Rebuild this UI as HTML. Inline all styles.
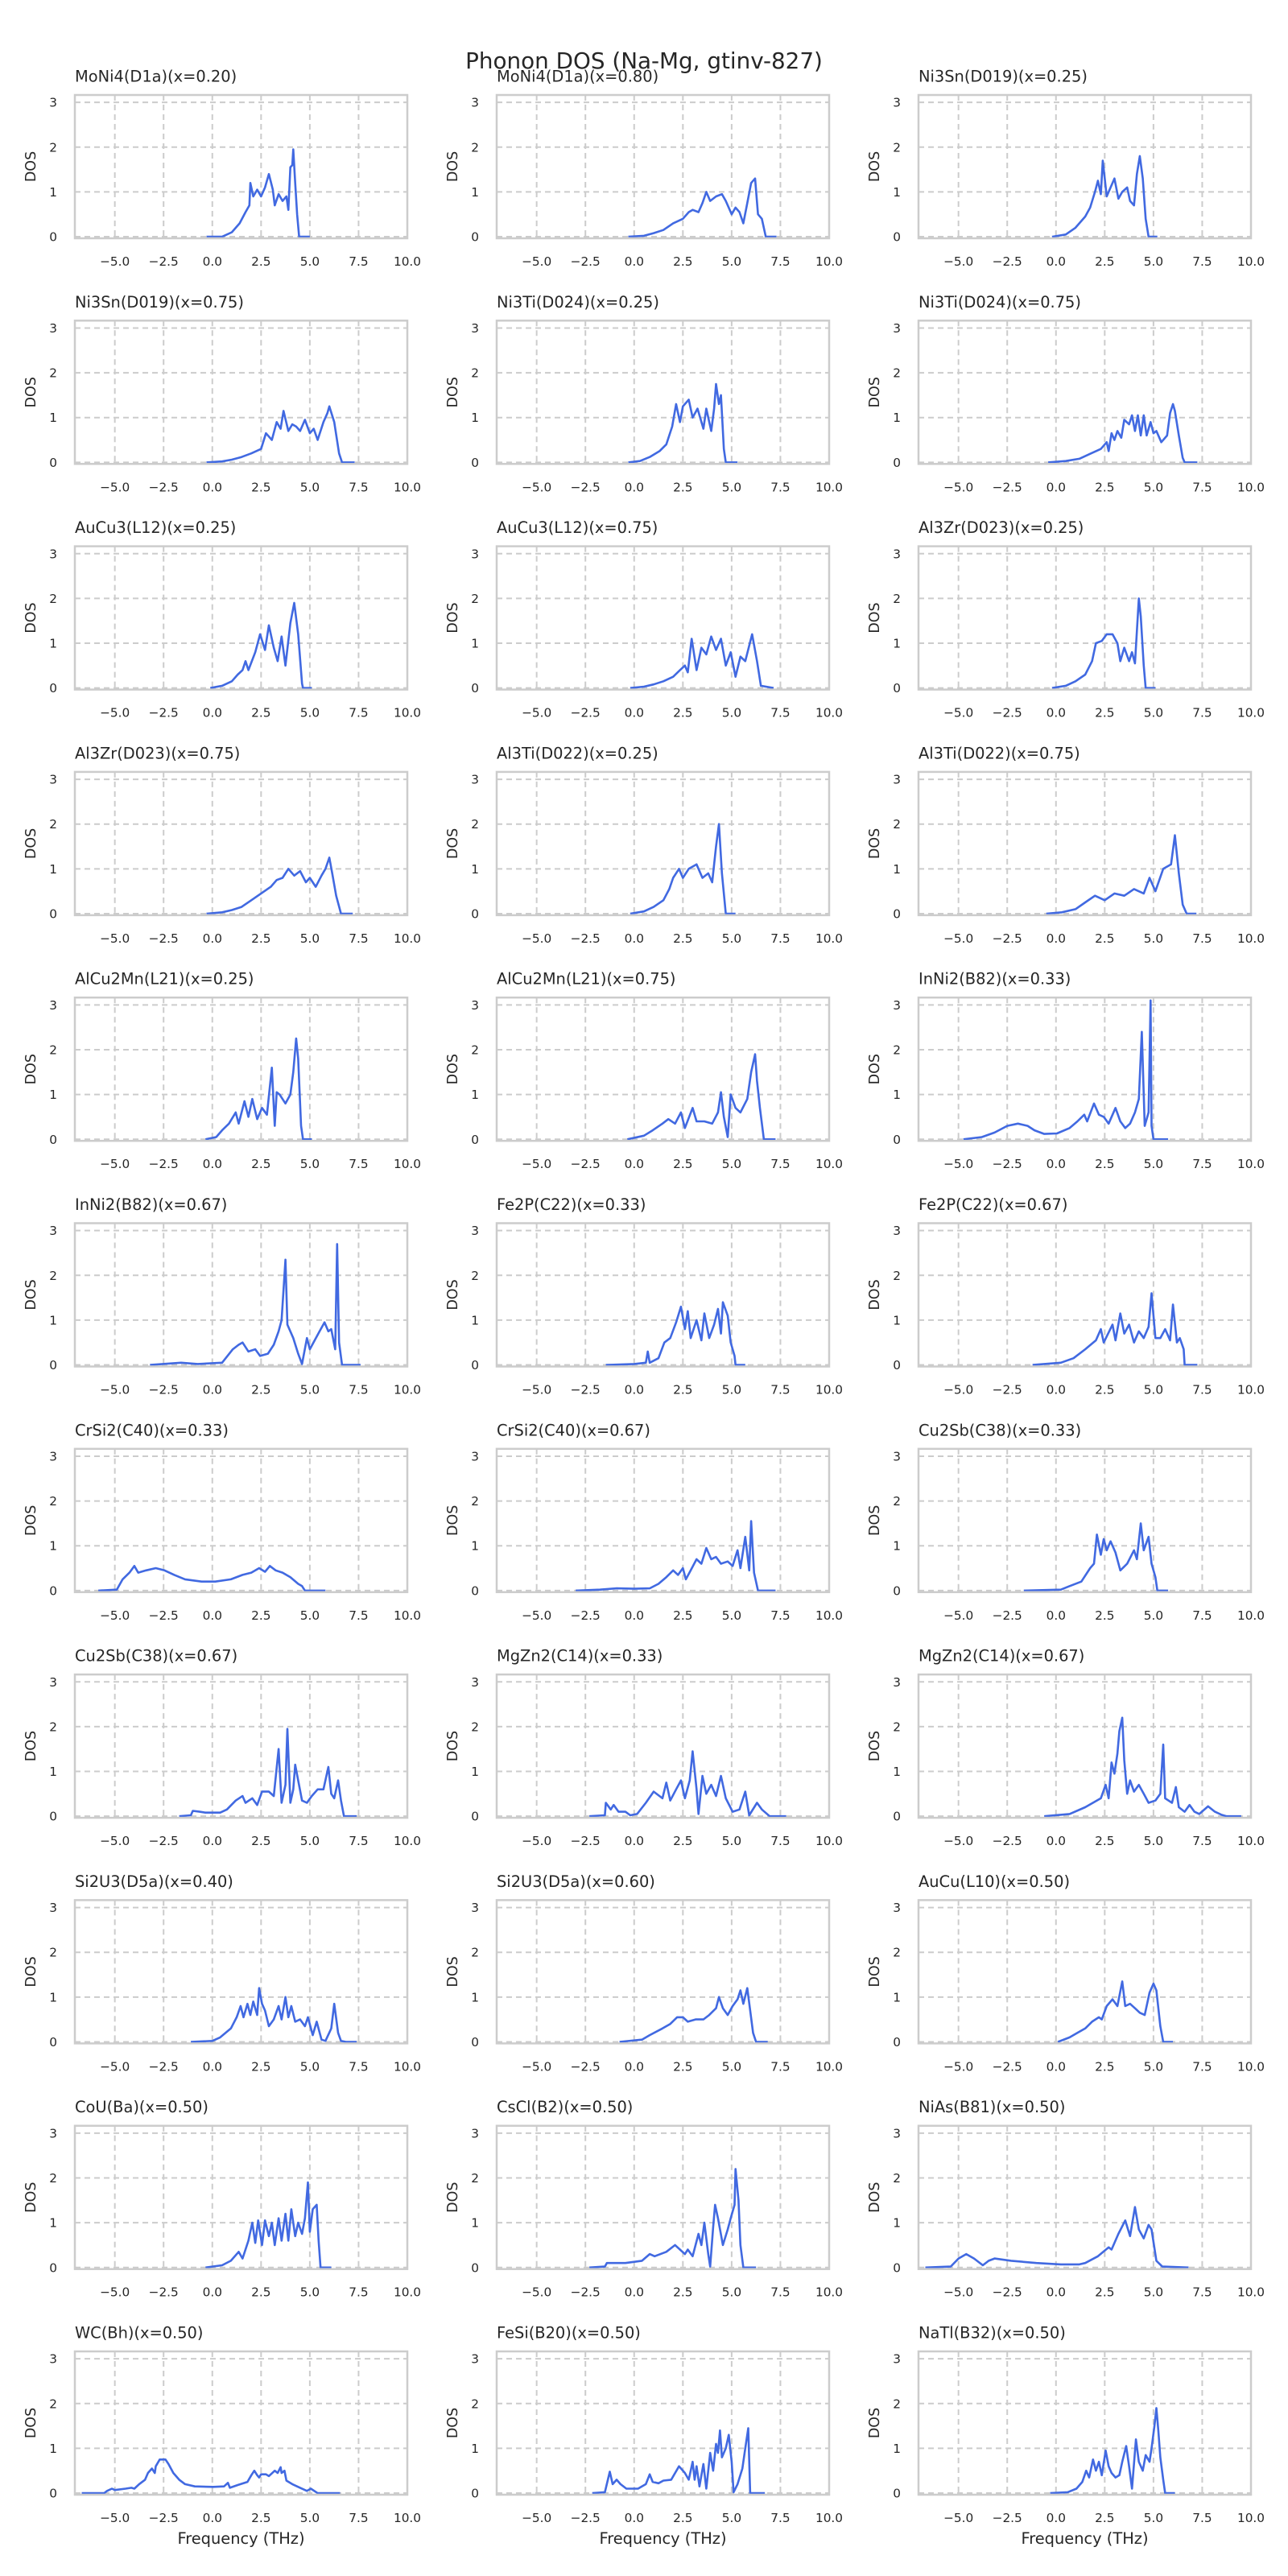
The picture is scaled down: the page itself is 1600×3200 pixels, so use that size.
<!DOCTYPE html>
<html><head><meta charset="utf-8"><title>Phonon DOS (Na-Mg, gtinv-827)</title>
<style>
html,body{margin:0;padding:0;background:#fff;}
svg{display:block;font-family:"DejaVu Sans","Liberation Sans",sans-serif;}
</style></head>
<body>
<svg id="fig" width="1600" height="3200" viewBox="0 0 1600 3200" xmlns="http://www.w3.org/2000/svg">
<rect width="1600" height="3200" fill="#fff"/>
<text x="800" y="85" text-anchor="middle" font-size="27.8" fill="#262626">Phonon DOS (Na-Mg, gtinv-827)</text>
</svg>
<script>
const panelTitles = ["MoNi4(D1a)(x=0.20)","MoNi4(D1a)(x=0.80)","Ni3Sn(D019)(x=0.25)","Ni3Sn(D019)(x=0.75)","Ni3Ti(D024)(x=0.25)","Ni3Ti(D024)(x=0.75)","AuCu3(L12)(x=0.25)","AuCu3(L12)(x=0.75)","Al3Zr(D023)(x=0.25)","Al3Zr(D023)(x=0.75)","Al3Ti(D022)(x=0.25)","Al3Ti(D022)(x=0.75)","AlCu2Mn(L21)(x=0.25)","AlCu2Mn(L21)(x=0.75)","InNi2(B82)(x=0.33)","InNi2(B82)(x=0.67)","Fe2P(C22)(x=0.33)","Fe2P(C22)(x=0.67)","CrSi2(C40)(x=0.33)","CrSi2(C40)(x=0.67)","Cu2Sb(C38)(x=0.33)","Cu2Sb(C38)(x=0.67)","MgZn2(C14)(x=0.33)","MgZn2(C14)(x=0.67)","Si2U3(D5a)(x=0.40)","Si2U3(D5a)(x=0.60)","AuCu(L10)(x=0.50)","CoU(Ba)(x=0.50)","CsCl(B2)(x=0.50)","NiAs(B81)(x=0.50)","WC(Bh)(x=0.50)","FeSi(B20)(x=0.50)","NaTl(B32)(x=0.50)"];
const xTicks = [-5, -2.5, 0, 2.5, 5, 7.5, 10];
const xTickLabels = ["\u22125.0","\u22122.5","0.0","2.5","5.0","7.5","10.0"];
const yTicks = [0, 1, 2, 3];
const yTickLabels = ["0","1","2","3"];
const xDomain = [-7.05, 10];
const yDomain = [-0.035, 3.165];
// each curve: [frequency (THz), DOS] pairs
const dosCurves = [
[[-0.3,0],[0.5,0],[1.0,0.1],[1.4,0.3],[1.7,0.55],[1.9,0.7],[1.95,1.2],[2.1,0.9],[2.3,1.05],[2.5,0.9],[2.7,1.1],[2.9,1.4],[3.1,1.05],[3.2,0.7],[3.4,0.95],[3.6,0.8],[3.8,0.9],[3.9,0.6],[4.0,1.55],[4.1,1.6],[4.15,1.95],[4.25,1.2],[4.35,0.5],[4.45,0],[5.0,0]],
[[-0.3,0],[0.5,0.02],[1.0,0.08],[1.5,0.15],[2.0,0.3],[2.5,0.4],[2.8,0.55],[3.0,0.6],[3.3,0.55],[3.5,0.75],[3.7,1.0],[3.9,0.8],[4.2,0.9],[4.5,0.95],[4.7,0.8],[5.0,0.5],[5.2,0.65],[5.4,0.55],[5.6,0.3],[5.8,0.75],[6.0,1.2],[6.2,1.3],[6.35,0.5],[6.55,0.4],[6.75,0],[7.3,0]],
[[-0.2,0],[0.5,0.05],[1.0,0.2],[1.5,0.45],[1.75,0.65],[2.0,1.0],[2.15,1.25],[2.3,0.95],[2.4,1.7],[2.6,0.9],[2.8,1.1],[3.0,1.3],[3.2,0.85],[3.4,1.0],[3.65,1.1],[3.8,0.8],[4.0,0.7],[4.15,1.4],[4.3,1.8],[4.45,1.3],[4.6,0.4],[4.75,0],[5.2,0]],
[[-0.3,0],[0.5,0.02],[1.0,0.06],[1.5,0.12],[2.0,0.2],[2.5,0.3],[2.75,0.65],[3.05,0.5],[3.3,0.9],[3.5,0.75],[3.65,1.15],[3.9,0.7],[4.1,0.85],[4.3,0.8],[4.5,0.7],[4.75,0.95],[5.0,0.65],[5.2,0.75],[5.4,0.5],[5.7,0.9],[5.9,1.1],[6.0,1.25],[6.25,0.9],[6.5,0.2],[6.65,0],[7.3,0]],
[[-0.3,0],[0.3,0.03],[0.8,0.12],[1.3,0.25],[1.65,0.4],[1.95,0.8],[2.15,1.3],[2.35,0.9],[2.5,1.25],[2.8,1.4],[3.0,1.0],[3.25,1.2],[3.55,0.75],[3.7,1.2],[3.95,0.7],[4.1,1.2],[4.2,1.75],[4.35,1.3],[4.45,1.5],[4.6,0.3],[4.7,0],[5.3,0]],
[[-0.4,0],[0.5,0.03],[1.2,0.08],[1.8,0.2],[2.3,0.3],[2.6,0.45],[2.7,0.25],[2.85,0.65],[3.0,0.5],[3.15,0.7],[3.35,0.55],[3.5,0.95],[3.75,0.85],[3.9,1.05],[4.05,0.7],[4.2,1.05],[4.35,0.6],[4.5,1.05],[4.65,0.6],[4.85,0.9],[5.0,0.65],[5.15,0.7],[5.4,0.45],[5.7,0.6],[5.85,1.1],[6.0,1.3],[6.1,1.15],[6.3,0.6],[6.5,0.1],[6.6,0],[7.25,0]],
[[-0.1,0],[0.5,0.05],[1.0,0.15],[1.3,0.3],[1.55,0.4],[1.7,0.6],[1.85,0.4],[2.2,0.8],[2.45,1.2],[2.7,0.85],[2.9,1.4],[3.15,0.9],[3.35,0.6],[3.55,1.15],[3.75,0.5],[4.0,1.45],[4.2,1.9],[4.4,1.2],[4.6,0.1],[4.65,0],[5.1,0]],
[[-0.2,0],[0.5,0.03],[1.0,0.08],[1.5,0.15],[2.0,0.25],[2.35,0.4],[2.6,0.5],[2.75,0.35],[2.95,1.1],[3.2,0.4],[3.45,0.9],[3.7,0.75],[3.95,1.15],[4.2,0.85],[4.45,1.1],[4.7,0.5],[4.95,0.8],[5.2,0.25],[5.45,0.7],[5.7,0.6],[6.05,1.2],[6.3,0.6],[6.5,0.05],[7.15,0]],
[[-0.2,0],[0.5,0.05],[1.0,0.15],[1.5,0.3],[1.85,0.6],[2.05,1.0],[2.35,1.05],[2.6,1.2],[2.9,1.2],[3.15,1.0],[3.3,0.6],[3.5,0.9],[3.75,0.6],[3.9,0.8],[4.05,0.55],[4.25,2.0],[4.35,1.6],[4.5,0.5],[4.6,0],[5.1,0]],
[[-0.3,0],[0.5,0.03],[1.0,0.08],[1.5,0.15],[2.0,0.3],[2.5,0.45],[3.0,0.6],[3.3,0.75],[3.6,0.8],[3.9,1.0],[4.2,0.85],[4.5,0.95],[4.8,0.7],[5.0,0.8],[5.3,0.6],[5.6,0.85],[5.8,1.0],[6.0,1.25],[6.15,0.9],[6.35,0.4],[6.6,0],[7.2,0]],
[[-0.2,0],[0.5,0.05],[1.0,0.15],[1.5,0.3],[1.8,0.55],[2.0,0.8],[2.3,1.0],[2.5,0.8],[2.8,1.0],[3.2,1.1],[3.5,0.8],[3.8,0.9],[4.0,0.7],[4.2,1.5],[4.35,2.0],[4.5,0.9],[4.7,0],[5.2,0]],
[[-0.5,0],[0.3,0.03],[1.0,0.1],[1.5,0.25],[2.0,0.4],[2.5,0.3],[3.0,0.45],[3.5,0.4],[4.0,0.55],[4.5,0.45],[4.8,0.8],[5.1,0.5],[5.5,1.0],[5.9,1.1],[6.1,1.75],[6.3,0.9],[6.5,0.2],[6.7,0],[7.2,0]],
[[-0.35,0],[0.2,0.05],[0.5,0.2],[0.85,0.35],[1.2,0.6],[1.35,0.35],[1.65,0.85],[1.85,0.5],[2.05,0.9],[2.3,0.45],[2.55,0.7],[2.8,0.55],[3.05,1.6],[3.2,0.3],[3.3,1.05],[3.45,1.0],[3.75,0.8],[4.0,1.0],[4.15,1.5],[4.3,2.25],[4.4,1.8],[4.55,0.3],[4.65,0],[5.1,0]],
[[-0.35,0],[0.5,0.08],[0.95,0.2],[1.45,0.35],[1.75,0.45],[2.1,0.35],[2.4,0.6],[2.6,0.25],[3.0,0.7],[3.2,0.4],[3.6,0.4],[4.0,0.35],[4.3,0.6],[4.45,1.05],[4.6,0.5],[4.8,0.05],[4.95,1.0],[5.2,0.7],[5.45,0.6],[5.8,0.9],[6.0,1.5],[6.2,1.9],[6.3,1.3],[6.45,0.7],[6.65,0],[7.25,0]],
[[-4.75,0],[-3.8,0.05],[-3.15,0.15],[-2.5,0.3],[-1.95,0.35],[-1.45,0.3],[-1.1,0.2],[-0.6,0.12],[0.05,0.13],[0.7,0.25],[1.1,0.4],[1.45,0.55],[1.6,0.4],[1.95,0.8],[2.2,0.55],[2.45,0.5],[2.7,0.35],[3.05,0.7],[3.3,0.4],[3.55,0.25],[3.8,0.35],[4.05,0.6],[4.25,0.9],[4.4,2.4],[4.55,0.3],[4.75,0.6],[4.85,3.1],[4.9,0.3],[5.0,0],[5.75,0]],
[[-3.2,0],[-1.6,0.05],[-0.75,0.02],[0.5,0.05],[1.05,0.35],[1.35,0.45],[1.55,0.5],[1.85,0.3],[2.2,0.35],[2.45,0.2],[2.85,0.25],[3.15,0.45],[3.4,0.75],[3.55,1.0],[3.75,2.35],[3.85,0.9],[4.15,0.6],[4.4,0.25],[4.6,0.02],[4.85,0.6],[5.0,0.35],[5.25,0.55],[5.5,0.75],[5.75,0.95],[5.95,0.75],[6.1,0.8],[6.3,0.35],[6.4,2.7],[6.5,0.5],[6.65,0],[7.6,0]],
[[-1.45,0],[0,0.02],[0.6,0.05],[0.7,0.3],[0.8,0.05],[1.25,0.15],[1.55,0.5],[1.85,0.6],[2.15,0.95],[2.4,1.3],[2.6,0.8],[2.75,1.2],[2.9,0.6],[3.2,1.0],[3.45,0.55],[3.6,1.15],[3.85,0.6],[4.1,0.9],[4.3,1.25],[4.45,0.7],[4.55,1.4],[4.8,1.1],[4.95,0.5],[5.15,0.2],[5.2,0],[5.7,0]],
[[-1.2,0],[0.25,0.05],[0.9,0.15],[1.5,0.35],[2.05,0.55],[2.3,0.8],[2.45,0.5],[2.9,0.9],[3.05,0.55],[3.3,1.15],[3.5,0.7],[3.75,0.9],[4.0,0.5],[4.25,0.75],[4.5,0.6],[4.75,0.85],[4.9,1.6],[5.1,0.6],[5.35,0.6],[5.6,0.8],[5.85,0.55],[6.0,1.35],[6.2,0.5],[6.35,0.6],[6.55,0.35],[6.6,0],[7.25,0]],
[[-5.85,0],[-4.9,0.02],[-4.6,0.25],[-4.25,0.4],[-4.0,0.55],[-3.8,0.4],[-3.4,0.45],[-2.9,0.5],[-2.45,0.45],[-1.95,0.35],[-1.4,0.25],[-0.55,0.2],[0.15,0.2],[0.95,0.25],[1.55,0.35],[2.0,0.4],[2.4,0.5],[2.7,0.42],[2.95,0.55],[3.25,0.45],[3.6,0.4],[4.0,0.3],[4.4,0.15],[4.6,0.1],[4.75,0],[5.8,0]],
[[-3.0,0],[-1.75,0.02],[-0.9,0.05],[0,0.04],[0.8,0.05],[1.25,0.15],[1.65,0.3],[2.0,0.45],[2.25,0.35],[2.5,0.5],[2.65,0.25],[2.9,0.45],[3.2,0.7],[3.45,0.6],[3.7,0.95],[3.95,0.7],[4.2,0.75],[4.45,0.6],[4.8,0.65],[5.05,0.55],[5.3,0.9],[5.45,0.5],[5.7,1.2],[5.9,0.45],[6.0,1.55],[6.15,0.4],[6.35,0],[7.25,0]],
[[-1.65,0],[0.25,0.02],[0.7,0.1],[1.3,0.2],[1.75,0.5],[1.95,0.6],[2.1,1.25],[2.3,0.8],[2.45,1.15],[2.6,0.9],[2.8,1.1],[3.05,0.85],[3.3,0.45],[3.65,0.6],[4.0,0.9],[4.15,0.7],[4.35,1.5],[4.5,0.9],[4.75,1.2],[4.9,0.6],[5.1,0.3],[5.2,0],[5.75,0]],
[[-1.7,0],[-1.1,0.02],[-1.0,0.12],[-0.65,0.1],[-0.35,0.08],[0.4,0.08],[0.75,0.15],[1.2,0.35],[1.55,0.45],[1.7,0.3],[2.05,0.4],[2.3,0.25],[2.55,0.55],[2.9,0.55],[3.15,0.45],[3.4,1.5],[3.55,0.3],[3.75,0.7],[3.85,1.95],[4.0,0.3],[4.15,0.6],[4.25,1.15],[4.4,0.8],[4.6,0.35],[4.85,0.3],[5.1,0.45],[5.4,0.6],[5.7,0.6],[5.95,1.1],[6.1,0.5],[6.25,0.4],[6.45,0.8],[6.6,0.35],[6.75,0],[7.4,0]],
[[-2.3,0],[-1.5,0.02],[-1.45,0.3],[-1.2,0.15],[-1.05,0.25],[-0.8,0.1],[-0.45,0.1],[-0.2,0.02],[0.15,0.05],[0.6,0.3],[1.0,0.55],[1.45,0.4],[1.65,0.75],[1.85,0.35],[2.15,0.6],[2.4,0.8],[2.6,0.4],[2.85,0.8],[3.0,1.45],[3.2,0.6],[3.3,0.05],[3.5,0.9],[3.7,0.5],[3.95,0.7],[4.2,0.45],[4.45,0.9],[4.7,0.4],[5.05,0.1],[5.4,0.15],[5.7,0.55],[5.9,0.02],[6.3,0.3],[6.55,0.15],[6.95,0],[7.8,0]],
[[-0.6,0],[0.7,0.05],[1.5,0.2],[2.3,0.4],[2.55,0.7],[2.7,0.4],[2.85,1.2],[3.0,0.95],[3.15,1.4],[3.25,1.9],[3.4,2.2],[3.5,1.25],[3.65,0.5],[3.8,0.8],[4.0,0.55],[4.25,0.7],[4.5,0.5],[4.75,0.3],[5.1,0.35],[5.35,0.5],[5.5,1.6],[5.6,0.4],[5.95,0.3],[6.15,0.65],[6.3,0.2],[6.6,0.1],[6.85,0.25],[7.1,0.1],[7.35,0.05],[7.8,0.22],[8.15,0.1],[8.5,0.03],[8.75,0],[9.5,0]],
[[-1.1,0],[0,0.02],[0.4,0.1],[0.95,0.3],[1.25,0.55],[1.45,0.8],[1.6,0.55],[1.8,0.85],[1.95,0.6],[2.1,0.9],[2.3,0.6],[2.4,1.2],[2.55,0.85],[2.7,0.7],[2.9,0.35],[3.15,0.5],[3.4,0.8],[3.55,0.5],[3.75,1.0],[3.9,0.55],[4.05,0.8],[4.25,0.45],[4.5,0.5],[4.75,0.35],[4.9,0.55],[5.15,0.15],[5.35,0.45],[5.6,0.05],[5.8,0.02],[6.1,0.3],[6.25,0.85],[6.45,0.2],[6.6,0.02],[6.85,0],[7.4,0]],
[[-0.75,0],[0.4,0.05],[0.8,0.15],[1.45,0.3],[1.85,0.4],[2.2,0.55],[2.5,0.55],[2.75,0.45],[3.15,0.5],[3.55,0.5],[3.85,0.6],[4.2,0.75],[4.35,1.0],[4.55,0.75],[4.8,0.6],[5.05,0.8],[5.3,0.95],[5.45,1.15],[5.6,0.85],[5.8,1.2],[5.95,0.7],[6.1,0.2],[6.25,0],[6.85,0]],
[[0.1,0],[0.7,0.1],[1.1,0.2],[1.5,0.3],[1.85,0.45],[2.2,0.55],[2.35,0.5],[2.6,0.8],[2.9,0.95],[3.15,0.8],[3.4,1.35],[3.55,0.8],[3.8,0.85],[4.05,0.75],[4.3,0.65],[4.55,0.6],[4.8,1.1],[5.0,1.3],[5.15,1.15],[5.35,0.35],[5.5,0],[6.0,0]],
[[-0.35,0],[0.5,0.05],[0.95,0.15],[1.35,0.35],[1.55,0.2],[1.85,0.6],[2.05,1.0],[2.2,0.55],[2.35,1.05],[2.55,0.5],[2.7,1.05],[2.9,0.7],[3.05,1.0],[3.2,0.5],[3.4,1.1],[3.55,0.6],[3.75,1.2],[3.9,0.6],[4.05,1.3],[4.25,0.7],[4.4,1.0],[4.6,0.75],[4.75,1.1],[4.9,1.9],[5.0,0.8],[5.15,1.3],[5.35,1.4],[5.45,0.6],[5.55,0],[6.1,0]],
[[-2.3,0],[-1.5,0.02],[-1.4,0.1],[-0.45,0.1],[0.4,0.15],[0.8,0.3],[1.05,0.25],[1.65,0.35],[2.1,0.5],[2.35,0.4],[2.6,0.3],[2.75,0.4],[3.0,0.25],[3.3,0.75],[3.45,0.5],[3.6,1.0],[3.8,0.3],[3.9,0.02],[4.05,0.9],[4.15,1.4],[4.3,1.1],[4.55,0.5],[4.8,0.85],[4.95,1.1],[5.15,1.4],[5.2,2.2],[5.35,1.5],[5.45,0.5],[5.6,0],[6.25,0]],
[[-6.7,0],[-5.4,0.02],[-5.0,0.2],[-4.6,0.3],[-4.2,0.2],[-3.75,0.05],[-3.45,0.15],[-3.15,0.2],[-2.3,0.15],[-1.0,0.1],[0.25,0.07],[1.2,0.07],[1.5,0.1],[2.15,0.25],[2.7,0.45],[2.85,0.4],[3.2,0.75],[3.55,1.05],[3.8,0.7],[4.05,1.35],[4.25,0.85],[4.5,0.65],[4.75,0.95],[4.9,0.85],[5.15,0.15],[5.45,0.02],[6.8,0]],
[[-6.7,0],[-5.55,0],[-5.4,0.05],[-5.15,0.1],[-5.0,0.07],[-4.45,0.1],[-4.15,0.12],[-4.0,0.1],[-3.75,0.2],[-3.45,0.3],[-3.3,0.45],[-3.1,0.55],[-2.95,0.45],[-2.9,0.6],[-2.7,0.75],[-2.55,0.75],[-2.4,0.75],[-2.25,0.65],[-2.0,0.45],[-1.7,0.3],[-1.4,0.2],[-0.9,0.15],[0.05,0.14],[0.6,0.15],[0.8,0.23],[0.9,0.12],[1.3,0.18],[1.8,0.25],[2.0,0.4],[2.15,0.5],[2.3,0.4],[2.4,0.35],[2.5,0.42],[2.75,0.42],[2.9,0.38],[3.2,0.5],[3.35,0.45],[3.5,0.58],[3.55,0.45],[3.7,0.5],[3.8,0.28],[4.1,0.2],[4.5,0.12],[4.85,0.05],[5.05,0.1],[5.4,0],[6.55,0]],
[[-2.15,0],[-1.5,0.02],[-1.25,0.48],[-1.1,0.2],[-0.9,0.3],[-0.7,0.2],[-0.4,0.1],[0.2,0.1],[0.6,0.2],[0.8,0.42],[0.95,0.25],[1.25,0.22],[1.5,0.28],[1.9,0.3],[2.3,0.6],[2.6,0.45],[2.8,0.3],[3.0,0.7],[3.1,0.3],[3.2,0.6],[3.35,0.15],[3.55,0.65],[3.7,0.1],[3.9,0.9],[4.05,0.5],[4.2,1.1],[4.3,0.9],[4.4,1.4],[4.5,0.8],[4.7,1.0],[4.85,1.3],[5.0,0.7],[5.1,0.02],[5.3,0.2],[5.55,0.55],[5.7,1.0],[5.85,1.45],[5.95,0],[6.7,0]],
[[-0.3,0],[0.6,0.02],[1.05,0.1],[1.35,0.25],[1.55,0.5],[1.7,0.35],[1.9,0.75],[2.05,0.5],[2.2,0.7],[2.35,0.4],[2.55,0.95],[2.7,0.6],[2.85,0.45],[3.05,0.35],[3.25,0.4],[3.4,0.7],[3.6,1.05],[3.75,0.6],[3.9,0.1],[4.1,1.2],[4.25,0.7],[4.45,0.5],[4.6,0.85],[4.8,0.7],[4.9,1.0],[5.05,1.5],[5.15,1.9],[5.25,1.4],[5.35,0.8],[5.5,0.3],[5.6,0],[6.1,0]]
];

const NS = "http://www.w3.org/2000/svg";
const fig = document.getElementById('fig');
const colLeft = [93, 617, 1141];
const axW = 413, axH = 178, rowTop0 = 118, rowPitch = 280.3;
function mk(tag, attrs, parent) {
  const e = document.createElementNS(NS, tag);
  for (const k in attrs) e.setAttribute(k, attrs[k]);
  parent.appendChild(e);
  return e;
}
panelTitles.forEach((title, i) => {
  const col = i % 3, row = Math.floor(i / 3);
  const L = colLeft[col], T = rowTop0 + row * rowPitch;
  const xs = v => L + (v - xDomain[0]) / (xDomain[1] - xDomain[0]) * axW;
  const ys = v => T + axH - (v - yDomain[0]) / (yDomain[1] - yDomain[0]) * axH;
  const g = mk('g', {}, fig);
  
  
  mk('rect', {x: L, y: T, width: axW, height: axH, fill: '#fff'}, g);
  xTicks.forEach((t, k) => {
    const gl = mk('line', {x1: xs(t), x2: xs(t), y1: T, y2: T + axH, stroke: '#cccccc', 'stroke-width': 2, 'stroke-dasharray': '7,5'}, g);
    
    
    const tl = mk('text', {x: xs(t), y: T + 212, 'text-anchor': 'middle', 'font-size': 15.3, fill: '#262626'}, g);
    
    
    tl.textContent = xTickLabels[k];
  });
  yTicks.forEach((t, k) => {
    const gl = mk('line', {x1: L, x2: L + axW, y1: ys(t), y2: ys(t), stroke: '#cccccc', 'stroke-width': 2, 'stroke-dasharray': '7,5'}, g);
    
    
    const tl = mk('text', {x: L - 22, y: ys(t) + 5.5, 'text-anchor': 'end', 'font-size': 15.3, fill: '#262626'}, g);
    
    
    tl.textContent = yTickLabels[k];
  });
  const pts = dosCurves[i].map(p => xs(p[0]).toFixed(1) + ',' + ys(p[1]).toFixed(1)).join(' ');
  const line = mk('polyline', {points: pts, fill: 'none', stroke: '#4169e1', 'stroke-width': 2.6, 'stroke-linejoin': 'round'}, g);
  
  
  const frame = mk('rect', {x: L, y: T, width: axW, height: axH, fill: 'none', stroke: '#cccccc', 'stroke-width': 2.5}, g);
  
  
  const tt = mk('text', {x: L, y: T - 16.5, 'font-size': 19.4, fill: '#262626'}, g);
  
  
  tt.textContent = title;
  const yl = mk('text', {x: 0, y: 0, 'text-anchor': 'middle', 'font-size': 17.5, fill: '#262626', transform: 'translate(' + (L - 49) + ',' + (T + 89) + ') rotate(-90)'}, g);
  
  
  yl.textContent = 'DOS';
  if (row === 10) {
    const xl = mk('text', {x: L + axW / 2, y: T + 239, 'text-anchor': 'middle', 'font-size': 19.4, fill: '#262626'}, g);
    
    
    xl.textContent = 'Frequency (THz)';
  }
});
</script>
</body></html>
